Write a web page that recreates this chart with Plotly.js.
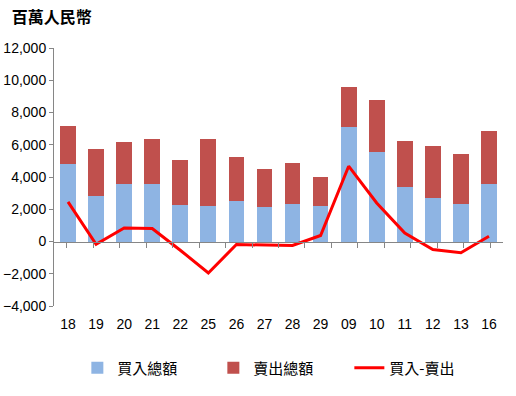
<!DOCTYPE html>
<html>
<head>
<meta charset="utf-8">
<script src="https://cdn.plot.ly/plotly-3.0.1.min.js"></script>
<style>html,body{margin:0;padding:0;background:#fff;}#chart{width:516px;height:396px;}</style>
</head>
<body>
<div id="chart"></div>
<script>
var categories = ["18","19","20","21","22","25","26","27","28","29","09","10","11","12","13","16"];
var buyTotal  = [4790, 2820, 3550, 3550, 2250, 2190, 2500, 2140, 2310, 2210, 7090, 5540, 3370, 2680, 2310, 3550];
var sellTotal = [2360, 2900, 2600, 2790, 2790, 4150, 2730, 2340, 2540, 1780, 2480, 3220, 2840, 3220, 3100, 3290];
var netBuy    = [2460, -170, 840, 800, -540, -1950, -190, -230, -250, 370, 4670, 2390, 530, -500, -700, 330];
var seriesNames = ["買入總額", "賣出總額", "買入-賣出"];

var font = "Liberation Sans, Arial, sans-serif";

var traces = [
  {type: "bar", name: seriesNames[0], x: categories, y: buyTotal,
   marker: {color: "#8EB4E3"}, hoverinfo: "skip"},
  {type: "bar", name: seriesNames[1], x: categories, y: sellTotal,
   marker: {color: "#C0504D"}, hoverinfo: "skip"},
  {type: "scatter", mode: "lines", name: seriesNames[2], x: categories, y: netBuy,
   line: {color: "#FF0000", width: 3}, hoverinfo: "skip"},
  {type: "scatter", mode: "markers", x: categories, y: categories.map(function(){return 0;}),
   xaxis: "x2", yaxis: "y", marker: {opacity: 0}, showlegend: false, hoverinfo: "skip"}
];

var layout = {
  width: 516, height: 396,
  margin: {l: 54, r: 13, t: 48, b: 90},
  paper_bgcolor: "#fff", plot_bgcolor: "#fff",
  barmode: "stack", bargap: 0.44,
  showlegend: true,
  font: {family: font, size: 14, color: "#000"},
  title: {text: "<b>百萬人民幣</b>", x: 0.023, xanchor: "left", y: 0.955, yanchor: "middle",
          font: {family: "Noto Sans CJK TC, sans-serif", size: 16, color: "#000"}},
  xaxis: {type: "category", categoryarray: categories, categoryorder: "array",
          showline: false, showgrid: false, zeroline: false,
          ticks: "outside", ticklen: 5, tickcolor: "rgba(0,0,0,0)",
          tickfont: {family: font, size: 14, color: "#000"}},
  xaxis2: {type: "category", categoryarray: categories, categoryorder: "array",
           overlaying: "x", anchor: "free", position: 0.25, side: "bottom",
           showline: true, linecolor: "#868686", linewidth: 1,
           ticks: "outside", tickson: "boundaries", ticklen: 5, tickcolor: "#868686",
           showticklabels: false, showgrid: false, zeroline: false},
  yaxis: {range: [-4000, 12000], dtick: 2000, tick0: 0,
          showline: true, linecolor: "#868686", linewidth: 1,
          ticks: "outside", ticklen: 4, tickcolor: "#868686",
          showgrid: false, zeroline: false, tickformat: ",d",
          tickfont: {family: font, size: 14, color: "#000"}},
  legend: {orientation: "h", x: 0.052, xanchor: "left", y: -0.24, yanchor: "middle",
           entrywidth: 91, entrywidthmode: "pixels", traceorder: "normal",
           font: {family: "Noto Sans CJK TC, sans-serif", size: 15, color: "#000"}}
};

Plotly.newPlot("chart", traces, layout, {staticPlot: true, displayModeBar: false});
</script>
</body>
</html>
